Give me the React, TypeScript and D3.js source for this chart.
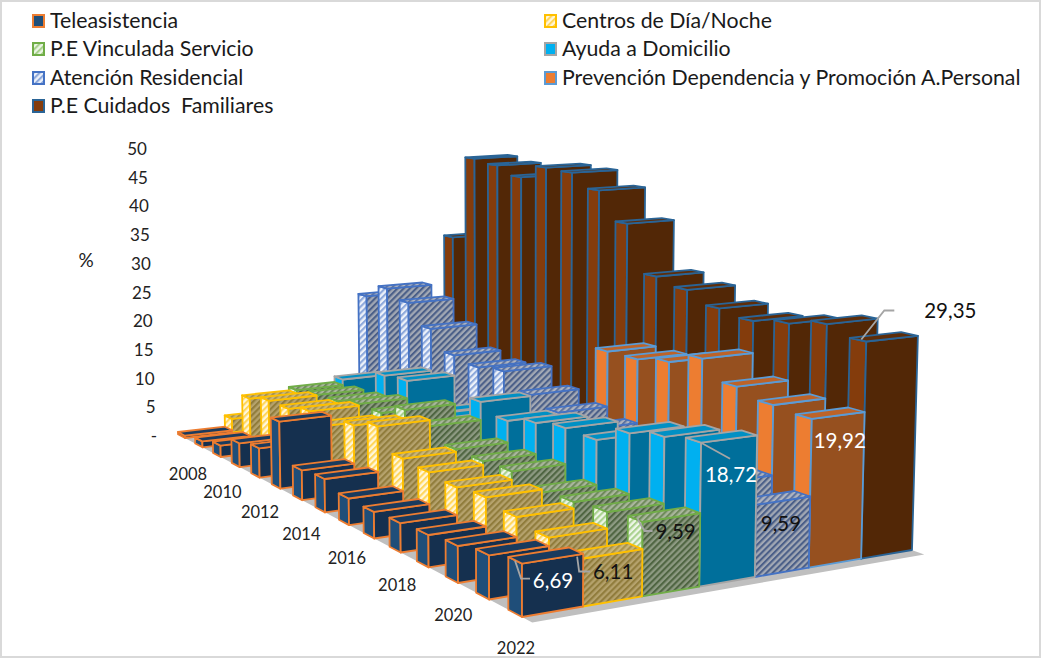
import React from 'react';
import * as d3 from 'd3';

const years = [2008, 2009, 2010, 2011, 2012, 2013, 2014, 2015, 2016, 2017, 2018, 2019, 2020, 2021, 2022];
const seriesNames = ['Teleasistencia', 'Centros de Día/Noche', 'P.E Vinculada Servicio', 'Ayuda a Domicilio', 'Atención Residencial', 'Prevención Dependencia y Promoción A.Personal', 'P.E Cuidados  Familiares'];

const teleasistencia = [0.4, 1, 1.9, 3.9, 4.7, 10.5, 4.6, 5, 3.9, 3.8, 4.1, 4.4, 4.9, 5.7, 6.69];
const centros = [2.4, 7.4, 8.5, 8.6, 9.7, 9, 10.5, 11.9, 8.7, 8.4, 8, 8.4, 7.6, 6.8, 6.11];
const vinculada = [2, 8, 8.6, 9, 10, 10, 12, 11, 9.1, 9, 9.2, 8, 8.5, 9, 9.59];
const ayuda = [1, 9, 6, 12.4, 12.9, 9, 10, 13.8, 12.4, 13.6, 14.4, 14.3, 16.8, 17.9, 18.72];
const residencial = [21.8, 24.2, 22.8, 19.5, 16.3, 15.6, 16.3, 14, 12.7, 11.7, 12.2, 11.2, 10.7, 10.7, 9.59];
const prevencion = [0, 0, 0, 0, 0, 0, 0, 0, 21.2, 21.3, 22.2, 24, 21.4, 20.3, 19.92];
const cuidados = [31.2, 46, 45.4, 44, 46.2, 46, 43.8, 39.3, 32, 31, 29.3, 28.6, 29.4, 30.5, 29.35];
const seriesValues = [teleasistencia, centros, vinculada, ayuda, residencial, prevencion, cuidados];

const yTicks = [50, 45, 40, 35, 30, 25, 20, 15, 10, 5, 0];
const yearLabels = [2008, 2010, 2012, 2014, 2016, 2018, 2020, 2022];

const W = 1041;
const H = 658;
const font = 'Lato, Carlito, sans-serif';

// floor corners of the bar grid on screen: back-left, back-right, front-right, front-left
const [p0, p1, p2, p3] = [[185, 438], [495, 402], [912, 550], [522, 617]];
const vanish = [515, 15000];
const frontScale = 7.95; // px per % at the front-left corner

const den = (p1[0] - p2[0]) * (p3[1] - p2[1]) - (p3[0] - p2[0]) * (p1[1] - p2[1]);
const sx = p0[0] - p1[0] + p2[0] - p3[0];
const sy = p0[1] - p1[1] + p2[1] - p3[1];
const g = (sx * (p3[1] - p2[1]) - (p3[0] - p2[0]) * sy) / den;
const h = ((p1[0] - p2[0]) * sy - sx * (p1[1] - p2[1])) / den;
const a = p1[0] - p0[0] + g * p1[0];
const b = p3[0] - p0[0] + h * p3[0];
const d = p1[1] - p0[1] + g * p1[1];
const e = p3[1] - p0[1] + h * p3[1];
const k = -frontScale * (h + 1) / (vanish[1] - p3[1]);

const uScale = d3.scaleBand<number>().domain(d3.range(seriesNames.length)).range([0, 1]);
const vScale = d3.scalePoint<number>().domain(years).range([0, 1]);
const hScale = d3.scaleLinear().domain([0, 50]).range([0, 50 * k]);
const yAxis = d3.scaleLinear().domain([0, 50]).range([436, 149]);
const depth = 0.41 / 14;

function project(s: number, t: number, value = 0): [number, number] {
  const z = hScale(value);
  const w = g * s + h * t + 1 + z;
  return [
    (a * s + b * t + p0[0] + z * vanish[0]) / w,
    (d * s + e * t + p0[1] + z * vanish[1]) / w,
  ];
}

const poly = (pts: [number, number][]) => pts.map(p => p.map(n => n.toFixed(1)).join(',')).join(' ');

interface Hatch { id: string; base: string; line: string; }
const hatches: Hatch[] = [
  { id: 'yL', base: '#fff7dc', line: '#ffd65c' },
  { id: 'yF', base: '#b5a26c', line: '#907c3c' },
  { id: 'yT', base: '#c9b67a', line: '#a8934c' },
  { id: 'gL', base: '#eef6e8', line: '#a9d18e' },
  { id: 'gF', base: '#8d9a82', line: '#4f6542' },
  { id: 'gT', base: '#a9b69c', line: '#6f8a5c' },
  { id: 'bL', base: '#eef2fa', line: '#8ea9db' },
  { id: 'bF', base: '#a2a8b4', line: '#4b5f88' },
  { id: 'bT', base: '#b0b5c0', line: '#5f74a0' },
];

const styles = [
  { left: '#1f4e79', front: '#15304f', top: '#1a3b5e', stroke: '#ed7d31' },
  { left: 'url(#yL)', front: 'url(#yF)', top: 'url(#yT)', stroke: '#ffc000' },
  { left: 'url(#gL)', front: 'url(#gF)', top: 'url(#gT)', stroke: '#70ad47' },
  { left: '#00b0f0', front: '#006f9b', top: '#0090c4', stroke: '#a5a5a5' },
  { left: 'url(#bL)', front: 'url(#bF)', top: 'url(#bT)', stroke: '#4472c4' },
  { left: '#ed7d31', front: '#96501f', top: '#bd6328', stroke: '#5b9bd5' },
  { left: '#843c0c', front: '#522706', top: '#5e2d09', stroke: '#2a6496' },
];
const legendFill = ['#1f4e79', 'url(#yL)', 'url(#gL)', '#00b0f0', 'url(#bL)', '#ed7d31', '#843c0c'];
const legendPos = [[33, 21], [545, 21], [33, 49], [545, 49], [33, 78], [545, 78], [33, 106]];

const labelOffsetX = d3.scaleLinear().domain([2008, 2022]).range([3, -6]);
const labelOffsetY = d3.scaleLinear().domain([2008, 2022]).range([36, 31]);

// labels of the last year: series, text, colour, text offset from the top corner, leader bends
const lastYear = years.length - 1;
const dataLabels = [
  { s: 0, text: '6,69', color: '#fff', dx: 31, dy: 17, leader: [[-7, -3], [-1, 15], [8, 15]] },
  { s: 1, text: '6,11', color: '#111', dx: 30, dy: 13, leader: [[-6, -2], [-4, 13], [7, 13]] },
  { s: 2, text: '9,59', color: '#111', dx: 33, dy: 10, leader: [[-5, -3], [2, 9], [10, 9]] },
  { s: 3, text: '18,72', color: '#fff', dx: 30, dy: 32, leader: [[0, 0], [29, 16]] },
  { s: 4, text: '9,59', color: '#111', dx: 25, dy: 19, leader: [] },
  { s: 5, text: '19,92', color: '#fff', dx: 28, dy: 22, leader: [] },
  { s: 6, text: '29,35', color: '#111', dx: 84, dy: -31, leader: [[-5, -2], [18, -31], [28, -31]] },
];

function Bar({ s, i }: { s: number; i: number }) {
  const value = seriesValues[s][i];
  if (value <= 0) return null;
  const u0 = uScale(s)!;
  const u1 = u0 + uScale.bandwidth();
  const t = vScale(years[i])!;
  const t0 = t - depth;
  const st = styles[s];
  const common = { stroke: st.stroke, strokeWidth: 1.8, strokeLinejoin: 'round' as const };
  return (
    <g>
      <polygon {...common} fill={st.left} points={poly([project(u0, t0), project(u0, t), project(u0, t, value), project(u0, t0, value)])} />
      <polygon {...common} fill={st.front} points={poly([project(u0, t), project(u1, t), project(u1, t, value), project(u0, t, value)])} />
      <polygon {...common} fill={st.top} points={poly([project(u0, t0, value), project(u0, t, value), project(u1, t, value), project(u1, t0, value)])} />
    </g>
  );
}

export default function App() {
  const floor = [project(0, -0.4 / 14), project(1, -0.4 / 14), project(1, 14.3 / 14), project(0, 14.3 / 14)];
  const order: [number, number][] = [];
  years.forEach((_, i) => {
    d3.range(seriesNames.length - 1, -1, -1).forEach(s => order.push([s, i]));
  });

  return (
    <svg width={W} height={H} viewBox={`0 0 ${W} ${H}`} style={{ position: 'fixed', left: 0, top: 0, background: '#fff', fontFamily: font }}>
      <defs>
        {hatches.map(p => (
          <pattern key={p.id} id={p.id} width={4.4} height={4.4} patternUnits="userSpaceOnUse" patternTransform="rotate(45)">
            <rect width={4.4} height={4.4} fill={p.base} />
            <rect width={2.1} height={4.4} fill={p.line} />
          </pattern>
        ))}
      </defs>
      <rect x={1} y={1} width={W - 2} height={H - 2} fill="#fff" stroke="#d9d9d9" strokeWidth={2} />

      {seriesNames.map((name, s) => (
        <g key={name} transform={`translate(${legendPos[s][0]},${legendPos[s][1]})`}>
          <rect x={0} y={-6} width={11} height={12} fill={legendFill[s]} stroke={styles[s].stroke} strokeWidth={2} />
          <text x={17} y={7} fontSize={21.3} fill="#1a1a1a" style={{ whiteSpace: 'pre' }}>{name}</text>
        </g>
      ))}

      {yTicks.map(t => (
        <text key={t} x={t === 0 ? 157 : 155.5 - (t - 5) * 0.19} y={yAxis(t) + 6} textAnchor="end" fontSize={17} fill="#222">
          {t === 0 ? '-' : t}
        </text>
      ))}
      <text x={86} y={267} textAnchor="middle" fontSize={19} fill="#222">%</text>

      <polygon points={poly(floor)} fill="#bfbfbf" />
      {order.map(([s, i]) => <Bar key={`${s}-${i}`} s={s} i={i} />)}

      {yearLabels.map(y => {
        const [px, py] = project(0, vScale(y)!);
        return (
          <text key={y} x={px + labelOffsetX(y)} y={py + labelOffsetY(y) + 6} textAnchor="middle" fontSize={16.5} fill="#222">{y}</text>
        );
      })}

      {dataLabels.map(l => {
        const [px, py] = project(uScale(l.s)!, vScale(years[lastYear])!, seriesValues[l.s][lastYear]);
        const line = d3.line()(l.leader.map(([dx, dy]) => [px + dx, py + dy] as [number, number]));
        return (
          <g key={l.s}>
            {l.leader.length > 0 && <path d={line!} fill="none" stroke="#a5a5a5" strokeWidth={1.8} />}
            <text x={px + l.dx} y={py + l.dy + 7} textAnchor="middle" fontSize={20.5} fill={l.color}>{l.text}</text>
          </g>
        );
      })}
    </svg>
  );
}
